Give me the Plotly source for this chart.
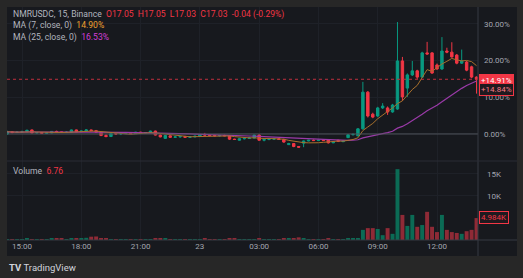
import pandas as pd
import plotly.graph_objects as go

# ---------------- data (percent change vs first visible bar) ----------------
times = pd.date_range("2024-01-22 14:15", periods=96, freq="15min")

opens = [0.0, 0.6, 0.4, 0.5, 0.6, 1.1, 0.3, 0.4, 0.2, 0.3, 0.7, 0.6, 0.4, 0.5, 1.1, 0.6,
         0.8, 1.1, 0.9, 0.5, -0.4, -0.7, 0.1, 0.0, 0.1, 0.2, 0.1, 0.5, 0.3, 0.4, 0.8, -0.3,
         -1.2, -0.5, -0.9, -0.8, -0.7, -0.9, -0.8, -0.6, -0.2, -0.3, -0.4, -0.5, -0.4, -0.5, -1.4, -1.7,
         -1.3, -1.2, -1.1, -0.3, -1.7, -1.5, -1.4, -1.3, -1.5, -2.9, -2.6, -3.4, -2.5, -1.9, -1.7, -1.8,
         -1.7, -1.6, -2.4, -1.7, -2.1, -1.0, -0.2, -0.5, 1.4, 11.4, 5.4, 4.9, 7.1, 7.1, 6.0, 6.8,
         19.9, 12.5, 16.1, 17.2, 15.5, 22.1, 22.1, 18.8, 17.7, 22.6, 22.3, 21.5, 19.3, 19.6, 18.3, 15.5]
highs = [0.9, 0.8, 0.7, 0.9, 1.2, 1.2, 0.5, 0.5, 0.5, 0.8, 0.9, 0.7, 0.7, 1.2, 1.2, 0.9,
         1.3, 1.2, 1.1, 0.6, -0.1, 0.2, 0.3, 0.2, 0.3, 0.4, 0.6, 0.6, 0.5, 0.9, 0.9, -0.1,
         -0.3, -0.4, -0.6, -0.6, -0.5, -0.7, -0.5, -0.1, 0.3, -0.1, -0.2, -0.3, -0.2, -0.4, -1.3, -1.2,
         -1.0, -0.8, -0.2, 0.0, -1.4, -1.2, -1.2, -1.1, -1.3, -2.4, -2.5, -3.3, -1.8, -1.6, -1.5, -1.6,
         -1.5, -1.5, -2.0, -1.6, -1.8, -0.1, 0.1, 1.6, 14.2, 11.7, 5.8, 7.4, 8.4, 7.5, 8.2, 30.5,
         21.0, 16.5, 19.9, 17.5, 22.4, 25.1, 22.3, 19.2, 26.4, 23.5, 25.0, 21.8, 23.0, 19.9, 18.6, 15.7]
lows = [-0.2, 0.2, 0.3, 0.4, 0.5, 0.2, 0.1, 0.1, 0.1, 0.2, 0.5, 0.3, 0.3, 0.4, 0.5, 0.5,
        0.7, 0.8, 0.4, -0.6, -0.9, -0.8, -0.2, -0.3, 0.0, 0.0, 0.0, 0.2, 0.2, 0.3, -0.4, -0.9,
        -1.3, -1.0, -1.0, -1.0, -1.0, -1.1, -0.9, -0.7, -0.4, -0.6, -0.7, -0.7, -0.6, -1.6, -1.6, -1.8,
        -1.5, -1.3, -1.2, -1.8, -2.0, -1.7, -1.6, -1.6, -2.4, -3.0, -3.6, -3.8, -3.6, -2.0, -1.9, -1.9,
        -1.9, -2.6, -2.5, -2.2, -2.2, -1.1, -0.4, -0.6, 1.2, 4.5, 4.3, 4.6, 6.8, 5.2, 5.8, 6.6,
        9.0, 10.1, 15.8, 15.0, 15.3, 21.6, 16.4, 17.5, 17.5, 22.0, 20.8, 19.0, 19.1, 17.1, 15.2, 11.0]
closes = [0.6, 0.4, 0.5, 0.6, 1.0, 0.3, 0.4, 0.2, 0.3, 0.7, 0.6, 0.4, 0.5, 1.1, 0.6, 0.8,
          1.1, 0.9, 0.5, -0.4, -0.7, 0.1, 0.0, 0.1, 0.2, 0.1, 0.5, 0.3, 0.4, 0.8, -0.3, -0.8,
          -0.4, -0.9, -0.8, -0.7, -0.9, -0.8, -0.6, -0.2, -0.3, -0.4, -0.5, -0.4, -0.5, -1.4, -1.5, -1.3,
          -1.2, -1.1, -0.3, -1.7, -1.5, -1.4, -1.3, -1.5, -2.2, -2.6, -3.4, -3.6, -1.9, -1.7, -1.8, -1.7,
          -1.8, -2.4, -2.1, -2.0, -1.9, -0.2, -0.1, 1.4, 11.4, 4.9, 4.6, 7.1, 7.6, 6.0, 7.9, 19.9,
          10.1, 16.1, 17.2, 15.5, 22.1, 21.8, 16.6, 17.7, 22.6, 22.3, 21.0, 19.3, 19.9, 17.4, 15.5, 14.91]
volumes = [200, 150, 150, 200, 250, 200, 150, 150, 150, 300, 300, 250, 200, 300, 250, 250,
           500, 750, 800, 300, 250, 200, 150, 150, 150, 150, 200, 200, 150, 150, 400, 300,
           250, 200, 150, 150, 150, 150, 150, 200, 250, 150, 150, 150, 150, 250, 250, 200,
           150, 150, 200, 250, 200, 150, 150, 150, 250, 300, 300, 600, 250, 200, 150, 150,
           150, 250, 200, 200, 200, 250, 250, 250, 2300, 2700, 2700, 2500, 1100, 2700, 1400, 16100,
           5700, 3200, 5700, 3000, 3400, 6400, 3000, 1800, 5700, 2300, 1800, 1600, 1400, 2000, 2300, 4984]

xtick_vals = ["2024-01-22 15:00", "2024-01-22 18:00", "2024-01-22 21:00", "2024-01-23 00:00",
              "2024-01-23 03:00", "2024-01-23 06:00", "2024-01-23 09:00", "2024-01-23 12:00"]
xtick_text = ["15:00", "18:00", "21:00", "23", "03:00", "06:00", "09:00", "12:00"]
price_ticks = [0, 10, 20, 30]
price_text = ["0.00%", "10.00%", "20.00%", "30.00%"]
vol_ticks = [10000, 15000]
vol_text = ["10K", "15K"]

# ---------------- styling ----------------
UP, DN = "#089981", "#f23645"
UPV, DNV = "#0b6b55", "#8f2a36"
BG, OUTER, GRID, SEP = "#17191e", "#272727", "#1e2128", "#363a43"
TXT = "#a3a6af"
FONT = "Roboto"

s_close = pd.Series(closes)
ma7 = s_close.rolling(7, min_periods=1).mean()
ma25 = s_close.rolling(25, min_periods=1).mean()
vcolors = [UPV if c >= o else DNV for o, c in zip(opens, closes)]

fig = go.Figure()
fig.add_trace(go.Bar(x=times, y=volumes, marker=dict(color=vcolors, line=dict(width=0)),
                     xaxis="x", yaxis="y2"))
fig.add_trace(go.Scatter(x=times, y=ma25, mode="lines", line=dict(color="#9a3aa8", width=1.2),
                         xaxis="x", yaxis="y"))
fig.add_trace(go.Scatter(x=times, y=ma7, mode="lines", line=dict(color="#a8702c", width=1),
                         xaxis="x", yaxis="y"))
fig.add_trace(go.Candlestick(x=times, open=opens, high=highs, low=lows, close=closes,
                             increasing=dict(line=dict(color=UP, width=1), fillcolor=UP),
                             decreasing=dict(line=dict(color=DN, width=1), fillcolor=DN),
                             whiskerwidth=0, xaxis="x", yaxis="y"))

step = pd.Timedelta(minutes=15)
xr = [times[0] - 0.04 * step, times[-1] + 0.3 * step]

H_SPLIT = 79 / 233
fig.update_layout(
    width=523, height=278,
    margin=dict(l=7, r=45, t=7, b=38),
    paper_bgcolor=OUTER, plot_bgcolor=BG,
    showlegend=False, bargap=0.2,
    font=dict(family=FONT, size=8, color=TXT),
    xaxis=dict(domain=[0, 1], anchor="y2", type="date", range=xr,
               rangeslider=dict(visible=False),
               tickvals=xtick_vals, ticktext=xtick_text, ticks="", showline=False,
               showgrid=True, gridcolor=GRID, gridwidth=1, zeroline=False,
               tickfont=dict(size=8, color=TXT, family=FONT)),
    yaxis=dict(domain=[H_SPLIT, 1], anchor="x", side="right", range=[-7.36, 34.6],
               tickvals=price_ticks, ticktext=price_text, ticks="", ticklabelstandoff=5,
               showgrid=True, gridcolor=GRID, zeroline=False, showline=False,
               tickfont=dict(size=8, color=TXT, family=FONT)),
    yaxis2=dict(domain=[0, H_SPLIT], anchor="x", side="right", range=[0, 17950],
                tickvals=vol_ticks, ticktext=vol_text, ticks="", ticklabelstandoff=8,
                showgrid=True, gridcolor=GRID, zeroline=False, showline=False,
                tickfont=dict(size=8, color=TXT, family=FONT)),
)

PR = 510 / 471   # panel right edge in paper units
PB = -16 / 233   # panel bottom edge in paper units
shapes = [
    dict(type="rect", xref="paper", yref="paper", x0=0, x1=PR, y0=PB, y1=1,
         fillcolor=BG, line=dict(width=0), layer="below"),
    dict(type="line", xref="paper", yref="y", x0=0, x1=1, y0=0, y1=0,
         line=dict(color="#4f525b", width=1)),
    dict(type="line", xref="paper", yref="y", x0=0, x1=1, y0=closes[-1], y1=closes[-1],
         line=dict(color="#c0303e", width=1, dash="dot")),
    dict(type="line", xref="paper", yref="paper", x0=1, x1=1, y0=PB, y1=1,
         line=dict(color=SEP, width=1)),
    dict(type="line", xref="paper", yref="paper", x0=0, x1=PR, y0=0, y1=0,
         line=dict(color=SEP, width=1)),
    dict(type="line", xref="paper", yref="paper", x0=0, x1=PR, y0=H_SPLIT, y1=H_SPLIT,
         line=dict(color="#2a2d34", width=1)),
]
fig.update_layout(shapes=shapes)


def px_x(p):
    return (p - 7) / 471


def px_y(p):
    return (240 - p) / 233


ann = [
    dict(text=("NMRUSDC, 15, Binance&nbsp;&nbsp;<span style='color:#f23645'>O17.05&nbsp;&nbsp;H17.05"
               "&nbsp;&nbsp;L17.03&nbsp;&nbsp;C17.03&nbsp;&nbsp;-0.04 (-0.29%)</span>"),
         x=px_x(11), y=px_y(14)),
    dict(text="MA (7, close, 0)&nbsp;&nbsp;<span style='color:#f0a030'>14.90%</span>",
         x=px_x(11), y=px_y(26)),
    dict(text="MA (25, close, 0)&nbsp;&nbsp;<span style='color:#d23fd6'>16.53%</span>",
         x=px_x(11), y=px_y(37)),
    dict(text="Volume&nbsp;&nbsp;<span style='color:#f23645'>6.76</span>",
         x=px_x(11), y=px_y(171)),
]
annotations = []
for a in ann:
    annotations.append(dict(xref="paper", yref="paper", xanchor="left", yanchor="middle",
                            showarrow=False, font=dict(size=8.6, color="#b2b5be", family=FONT), **a))

annotations += [
    dict(text="+14.91%", xref="paper", yref="y", x=1.002, y=14.7, xanchor="left", yanchor="middle",
         showarrow=False, bgcolor=DN, bordercolor=DN, borderwidth=1, borderpad=1,
         font=dict(size=8, color="#ffffff", family=FONT)),
    dict(text="+14.84%", xref="paper", yref="y", x=1.002, y=12.0, xanchor="left", yanchor="middle",
         showarrow=False, bgcolor="#1f1a1f", bordercolor=DN, borderwidth=1, borderpad=1,
         font=dict(size=8, color="#f77c86", family=FONT)),
    dict(text="4.984K", xref="paper", yref="y2", x=1.002, y=5200, xanchor="left", yanchor="middle",
         showarrow=False, bgcolor="#1f1a1f", bordercolor=DN, borderwidth=1, borderpad=1,
         font=dict(size=8, color="#f23645", family=FONT)),
    dict(text="<b>TV</b>&nbsp;TradingView", xref="paper", yref="paper", x=px_x(7), y=px_y(267),
         xanchor="left", yanchor="middle", showarrow=False,
         font=dict(size=9.5, color="#d1d4dc", family=FONT)),
]
fig.update_layout(annotations=annotations)

fig.write_html("out.html")
